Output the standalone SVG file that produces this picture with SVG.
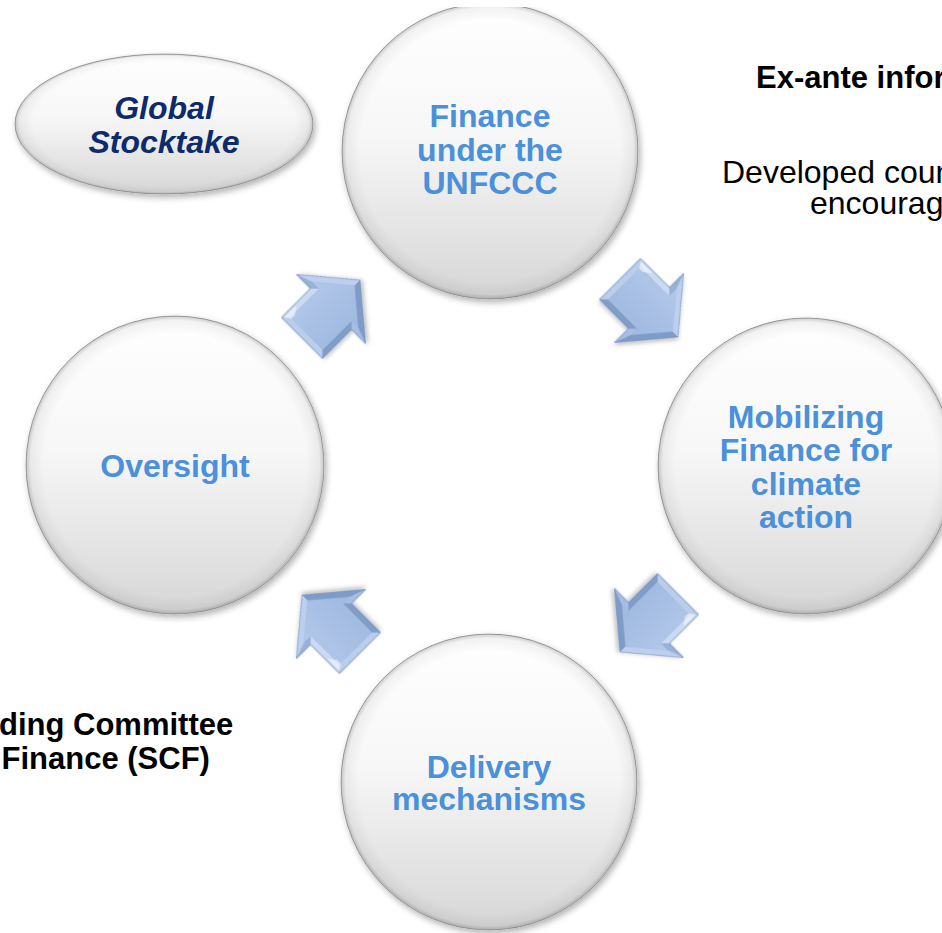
<svg xmlns="http://www.w3.org/2000/svg" xmlns:xlink="http://www.w3.org/1999/xlink" width="942" height="933" viewBox="0 0 942 933">
  <defs>
    <style>
      .orb { fill: url(#orbFill); stroke: #a9a9a9; stroke-width: 1; }
      .rim { fill: url(#orbRim); }
      .lbl { font-family: "Liberation Sans", Arial, sans-serif; font-weight: bold; font-size: 32px; fill: #4a90da; text-anchor: middle; }
      .gst { font-family: "Liberation Sans", Arial, sans-serif; font-weight: bold; font-style: italic; font-size: 32px; fill: #0c2a6c; text-anchor: middle; }
      .note-b { font-family: "Liberation Sans", Arial, sans-serif; font-weight: bold; font-size: 31px; fill: #000000; }
      .note { font-family: "Liberation Sans", Arial, sans-serif; font-size: 32px; fill: #000000; }
      .face { fill: url(#arrowFace); }
      .edge { fill: none; stroke: #6e8cb9; stroke-width: 0.7; stroke-linejoin: round; }
    </style>
    <linearGradient id="orbFill" x1="0" y1="0" x2="0" y2="1">
      <stop offset="0" stop-color="#ffffff"/>
      <stop offset="0.45" stop-color="#f7f7f7"/>
      <stop offset="1" stop-color="#d6d6d6"/>
    </linearGradient>
    <radialGradient id="orbRim" cx="0.5" cy="0.5" r="0.5">
      <stop offset="0.88" stop-color="#000000" stop-opacity="0"/>
      <stop offset="0.97" stop-color="#000000" stop-opacity="0.05"/>
      <stop offset="1" stop-color="#000000" stop-opacity="0.2"/>
    </radialGradient>
    <linearGradient id="arrowFace" x1="0" y1="0" x2="0" y2="1">
      <stop offset="0" stop-color="#b2c8ea"/>
      <stop offset="1" stop-color="#9fb8df"/>
    </linearGradient>
    <filter id="orbShadow" x="-10%" y="-10%" width="125%" height="125%">
      <feDropShadow dx="2" dy="3" stdDeviation="3" flood-color="#000000" flood-opacity="0.3"/>
    </filter>
    <filter id="arrowShadow" x="-20%" y="-20%" width="140%" height="140%">
      <feDropShadow dx="1.5" dy="2" stdDeviation="2" flood-color="#000000" flood-opacity="0.25"/>
    </filter>
    <clipPath id="topCut">
      <rect x="0" y="7" width="942" height="926"/>
    </clipPath>
    <!-- bevelled block arrow, pointing along +x, centred on the origin -->
    <g id="blockArrow" filter="url(#arrowShadow)">
      <polygon points="-41,-29 0,-29 0,-49 41,0 0,49 0,29 -41,29" fill="#8ea9d1"/>
      <polygon points="-41,29 -41,-29 -35,-23 -35,23" fill="#b9cdec"/>
      <polygon points="-41,-29 0,-29 6,-23 -35,-23" fill="#c9daf2"/>
      <polygon points="0,-29 0,-49 6,-32.3 6,-23" fill="#97b1d9"/>
      <polygon points="0,-49 41,0 33.2,0 6,-32.3" fill="#bccfee"/>
      <polygon points="41,0 0,49 6,32.3 33.2,0" fill="#7f9cc8"/>
      <polygon points="0,49 0,29 6,23 6,32.3" fill="#a6bee3"/>
      <polygon points="0,29 -41,29 -35,23 6,23" fill="#819ec9"/>
      <polygon class="face" points="-35,-23 6,-23 6,-32.3 33.2,0 6,32.3 6,23 -35,23"/>
      <polygon points="-39,-27 -22,-27 -30,-21 -35,-21" fill="#ffffff" opacity="0.5"/>
      <polygon class="edge" points="-41,-29 0,-29 0,-49 41,0 0,49 0,29 -41,29"/>
    </g>
  </defs>

  <rect x="0" y="0" width="942" height="933" fill="#ffffff"/>

  <!-- cycle arrows between the stages -->
  <g id="connectors">
    <use xlink:href="#blockArrow" href="#blockArrow" transform="translate(331,309) rotate(-45)"/>
    <use xlink:href="#blockArrow" href="#blockArrow" transform="translate(649,308) rotate(45)"/>
    <use xlink:href="#blockArrow" href="#blockArrow" transform="translate(649,623) rotate(135)"/>
    <use xlink:href="#blockArrow" href="#blockArrow" transform="translate(331,624) rotate(-135)"/>
  </g>

  <g id="node-global-stocktake">
    <g filter="url(#orbShadow)">
      <ellipse class="orb" cx="164" cy="124" rx="149" ry="70"/>
    </g>
    <ellipse class="rim" cx="164" cy="124" rx="149" ry="70"/>
    <text class="gst" x="164" y="119">Global</text>
    <text class="gst" x="164" y="153">Stocktake</text>
  </g>

  <g id="node-finance-unfccc">
    <g clip-path="url(#topCut)">
      <g filter="url(#orbShadow)">
        <circle class="orb" cx="490" cy="151" r="148"/>
      </g>
      <circle class="rim" cx="490" cy="151" r="148"/>
    </g>
    <text class="lbl" x="490" y="127">Finance</text>
    <text class="lbl" x="490" y="160.5">under the</text>
    <text class="lbl" x="490" y="194">UNFCCC</text>
  </g>

  <g id="node-mobilizing">
    <g filter="url(#orbShadow)">
      <circle class="orb" cx="806" cy="466" r="148"/>
    </g>
    <circle class="rim" cx="806" cy="466" r="148"/>
    <text class="lbl" x="806" y="427.5">Mobilizing</text>
    <text class="lbl" x="806" y="460.5">Finance for</text>
    <text class="lbl" x="806" y="494.5">climate</text>
    <text class="lbl" x="806" y="527.5">action</text>
  </g>

  <g id="node-delivery">
    <g filter="url(#orbShadow)">
      <circle class="orb" cx="489" cy="782" r="148"/>
    </g>
    <circle class="rim" cx="489" cy="782" r="148"/>
    <text class="lbl" x="489" y="777.5">Delivery</text>
    <text class="lbl" x="489" y="809.5">mechanisms</text>
  </g>

  <g id="node-oversight">
    <g filter="url(#orbShadow)">
      <circle class="orb" cx="175" cy="465" r="149"/>
    </g>
    <circle class="rim" cx="175" cy="465" r="149"/>
    <text class="lbl" x="175" y="476.5">Oversight</text>
  </g>

  <!-- side notes running off the page edges -->
  <g id="note-ex-ante">
    <text class="note-b" x="756" y="88">Ex-ante infor</text>
    <text class="note" x="722" y="183">Developed coun</text>
    <text class="note" x="810" y="214">encourag</text>
  </g>

  <g id="note-scf">
    <text class="note-b" x="-1" y="735">ding Committee</text>
    <text class="note-b" x="1.5" y="769">Finance (SCF)</text>
  </g>
</svg>
